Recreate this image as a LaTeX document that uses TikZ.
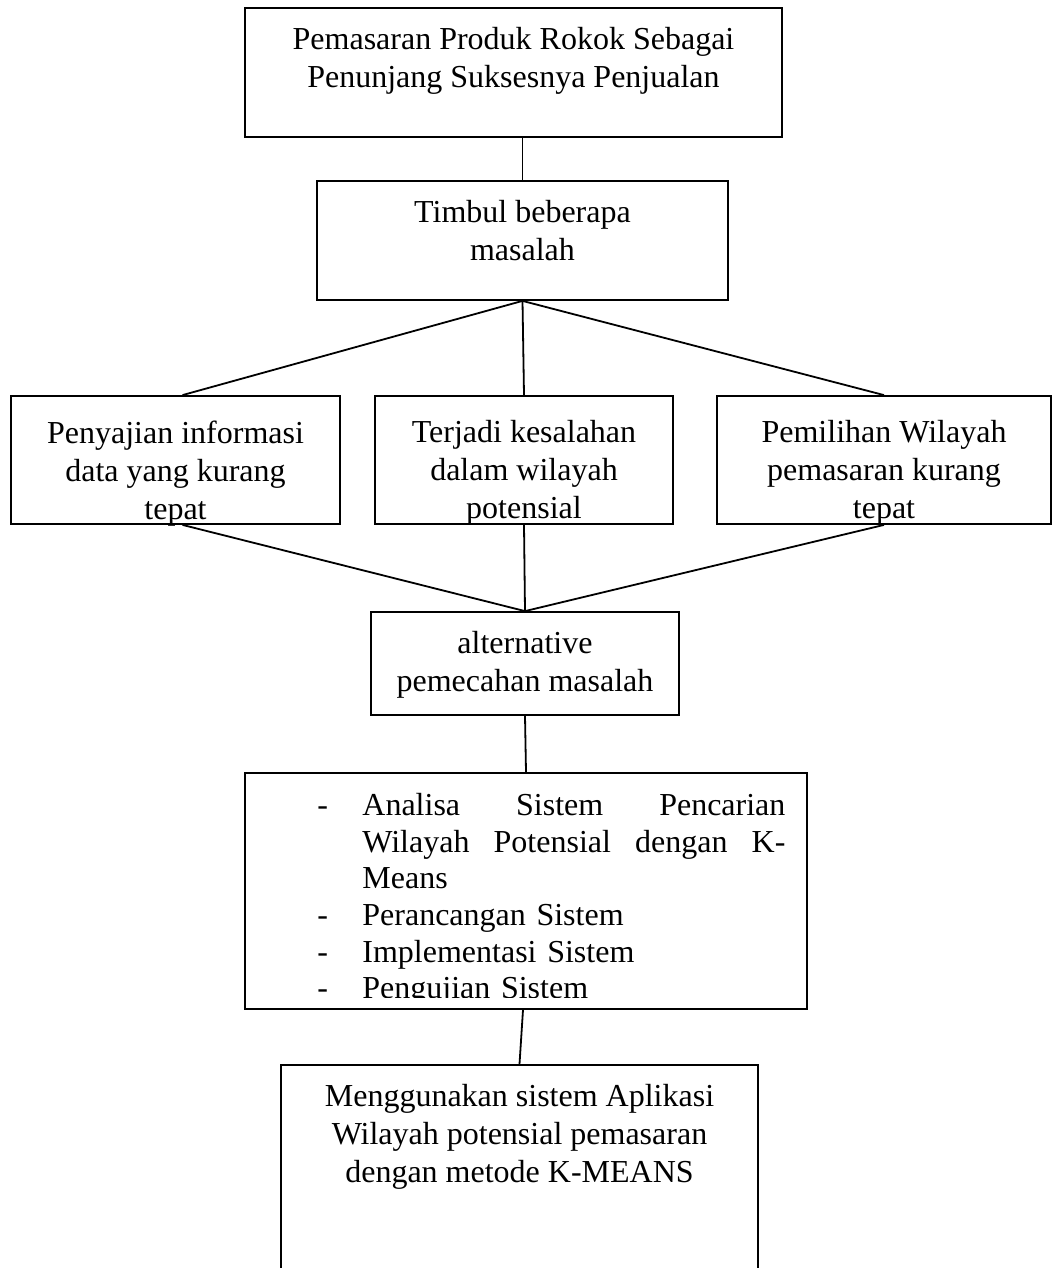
\documentclass[tikz,border=0pt]{standalone}
\usepackage{fontspec}
\setmainfont{Liberation Serif}
\usetikzlibrary{calc}
\begin{document}
\begin{tikzpicture}[x=0.5pt,y=-0.5pt,
  box/.style args={#1/#2}{draw, line width=0.9pt, inner sep=0pt,
    minimum width=#1*0.5pt, minimum height=#2*0.5pt},
  txt/.style={anchor=north, align=center, inner sep=0pt,
    font=\fontsize{16}{19}\selectfont},
  conn/.style={line width=0.9pt}]
\useasboundingbox (0,0) rectangle (1055,1268);
\clip (0,0) rectangle (1055,1268);
% boxes
\node[box=537/129] (b1) at (513.5,72.5) {};
\node[box=411/119] (b2) at (522.5,240.5) {};
\node[box=329/128] (pa) at (175.5,460) {};
\node[box=298/128] (pb) at (524,460) {};
\node[box=334/128] (pc) at (884,460) {};
\node[box=308/103] (b4) at (525,663.5) {};
\node[box=562/236] (b5) at (526,891) {};
\node[box=477/235] (b6) at (519.5,1182.5) {};
% texts
\node[txt] (t1) at ($(b1.north)+(0,20)$) {Pemasaran Produk Rokok Sebagai\\Penunjang Suksesnya Penjualan};
\node[txt] (t2) at ($(b2.north)+(0,20)$) {Timbul beberapa\\masalah};
\node[txt] (ta) at ($(pa.north)+(0,25)$) {Penyajian informasi\\data yang kurang\\tepat};
\node[txt] (tb) at ($(pb.north)+(0,25)$) {Terjadi kesalahan\\dalam wilayah\\potensial};
\node[txt] (tc) at ($(pc.north)+(0,25)$) {Pemilihan Wilayah\\pemasaran kurang\\tepat};
\node[txt] (t4) at ($(b4.north)+(0,20)$) {alternative\\pemecahan masalah};
\begin{scope}
\clip (245,773) rectangle (807,997);
\node[anchor=north west, inner sep=0pt, text width=234pt, align=left,
  font=\fontsize{16}{18.3}\selectfont] (t5) at (317,793) {%
\makebox[22.5pt][l]{-}\makebox[211.5pt][s]{Analisa\hfill Sistem\hfill Pencarian}\\
\hspace*{22.5pt}\makebox[211.5pt][s]{Wilayah\hfill Potensial\hfill dengan\hfill K-}\\
\hspace*{22.5pt}Means\\
\makebox[22.5pt][l]{-}Perancangan Sistem\\
\makebox[22.5pt][l]{-}Implementasi Sistem\\
\makebox[22.5pt][l]{-}Pengujian Sistem};
\end{scope}
\node[txt] (t6) at ($(b6.north)+(0,20)$) {Menggunakan sistem Aplikasi\\Wilayah potensial pemasaran\\dengan metode K-MEANS};
% connectors
\draw[conn] (b2.north |- b1.south) -- (b2.north);
\draw[conn] (b2.south) -- ([xshift=3.5pt]pa.north);
\draw[conn] (b2.south) -- (pb.north);
\draw[conn] (b2.south) -- (pc.north);
\draw[conn] ([xshift=3.5pt]pa.south) -- (b4.north);
\draw[conn] (pb.south) -- (b4.north);
\draw[conn] (pc.south) -- (b4.north);
\draw[conn] (b4.south) -- (b5.north);
\draw[conn] ([xshift=-1.5pt]b5.south) -- (b6.north);
\end{tikzpicture}
\end{document}
